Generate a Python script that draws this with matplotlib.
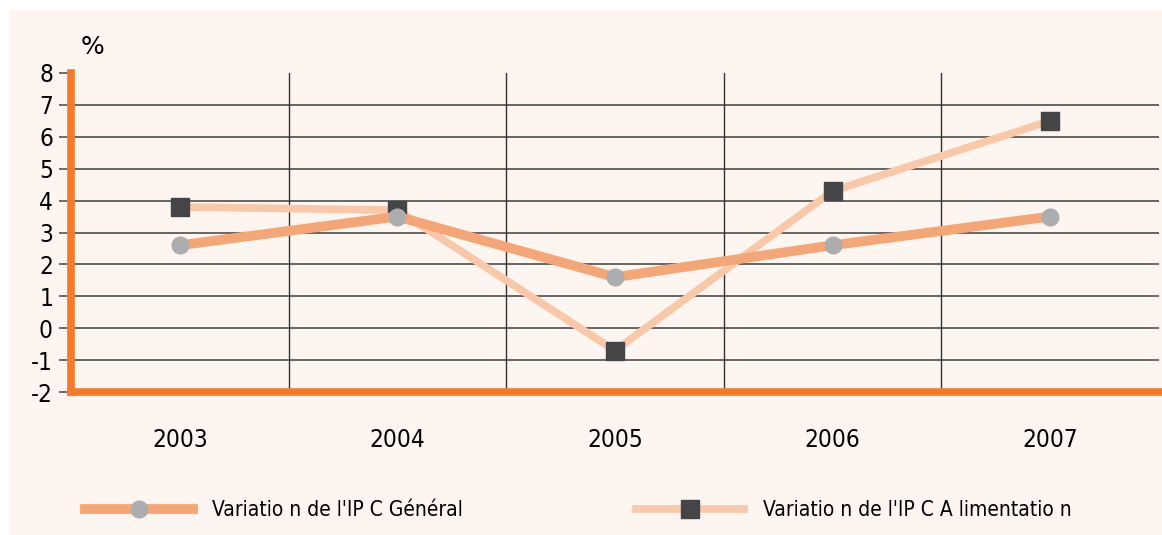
import matplotlib
matplotlib.use('Agg')
import matplotlib.pyplot as plt
from matplotlib.patches import Rectangle
from matplotlib.font_manager import FontProperties

years = ['2003', '2004', '2005', '2006', '2007']
ipc_general = [2.6, 3.5, 1.6, 2.6, 3.5]
ipc_alim = [3.8, 3.7, -0.7, 4.3, 6.5]
label_general = "Variatio n de l'IP C Général"
label_alim = "Variatio n de l'IP C A limentatio n"

cream = '#fdf5f0'
orange = '#f47b2a'

fig = plt.figure(figsize=(11.62, 5.35), dpi=100, facecolor='white')
fig.patches.append(Rectangle((9 / 1162, 0), 1, 1 - 10 / 535, transform=fig.transFigure,
                             facecolor=cream, edgecolor='none', zorder=-10))

ax = fig.add_axes([71 / 1162, 1 - 392 / 535, (1159 - 71) / 1162, (392 - 73) / 535])
ax.set_facecolor(cream)

x = list(range(len(years)))
l_alim, = ax.plot(x, ipc_alim, color='#f9c8a8', lw=5.5, marker='s', ms=12.5,
                  mfc='#444547', mec='#444547', label=label_alim, zorder=3)
l_gen, = ax.plot(x, ipc_general, color='#f5a676', lw=7, marker='o', ms=12,
                 mfc='#adadb0', mec='#adadb0', label=label_general, zorder=4)

ax.set_xlim(-0.5, len(years) - 0.5)
ax.set_ylim(-2, 8)
ax.set_yticks(range(-2, 9))
ax.set_yticklabels([str(v) for v in range(-2, 9)], fontsize=17.5, stretch='condensed')
ax.set_xticks(x)
ax.set_xticklabels(years, fontsize=17.5, stretch='condensed')
ax.tick_params(axis='x', length=0, pad=26)
ax.tick_params(axis='y', length=9, width=1.2, color='#555555', pad=4)

for v in range(-1, 8):
    ax.axhline(v, color='#5a5a5a', lw=1.3, zorder=1)
for i in range(len(years) - 1):
    ax.axvline(i + 0.5, color='#333333', lw=1.0, zorder=1)

for s in ['top', 'right']:
    ax.spines[s].set_visible(False)
for s in ['left', 'bottom']:
    ax.spines[s].set_color(orange)
    ax.spines[s].set_linewidth(5.5)
    ax.spines[s].set_zorder(5)

fig.text(93 / 1162, 1 - 47 / 535, '%', fontsize=18, ha='center', va='center')

# two separate legend boxes, like the original
prop = FontProperties(family='DejaVu Sans', stretch='condensed', size=15)
leg1 = fig.legend([l_gen], [label_general], loc='center left',
                  bbox_to_anchor=(66 / 1162, 1 - 510 / 535), frameon=False,
                  prop=prop, handlelength=5.2, handletextpad=0.9)
leg2 = fig.legend([l_alim], [label_alim], loc='center left',
                  bbox_to_anchor=(617 / 1162, 1 - 510 / 535), frameon=False,
                  prop=prop, handlelength=5.2, handletextpad=0.9)

fig.savefig('out.png', dpi=100, facecolor='white')
